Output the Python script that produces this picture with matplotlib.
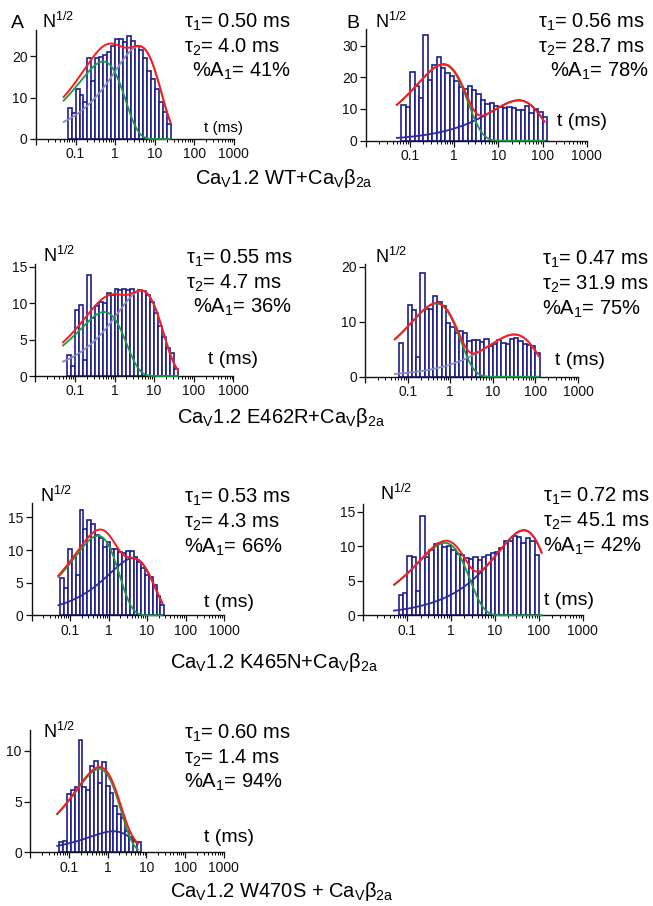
import numpy as np
import matplotlib
matplotlib.use('Agg')
import matplotlib.pyplot as plt
from matplotlib.ticker import LogLocator, NullFormatter

plt.rcParams['font.family'] = ['Liberation Sans', 'DejaVu Sans']
plt.rcParams['mathtext.fontset'] = 'custom'
plt.rcParams['mathtext.rm'] = 'Liberation Sans'
plt.rcParams['mathtext.it'] = 'Liberation Sans:italic'
plt.rcParams['mathtext.bf'] = 'Liberation Sans:bold'

W, H = 653, 906

# dwell-time histograms, sqrt(counts) per log bin (10 bins per decade)
bins_start = [-1.2, -1.2, -1.2, -1.2, -1.25, -1.2, -1.25]   # log10 of first edge
wt_fast = [7.5, 6.3, 12.0, 10.6, 9.0, 19.4, 14.0, 19.5, 19.8, 20.3, 21.0, 22.5, 24.0,
           24.0, 23.3, 24.7, 23.7, 22.5, 21.4, 19.5, 16.5, 14.5, 12.0, 9.0, 6.5, 3.5]
wt_slow = [11.3, 10.5, 21.6, 17.3, 13.5, 33.5, 19.2, 23.9, 26.3, 22.8, 21.5, 20.4, 18.8,
           16.8, 16.2, 17.1, 16.1, 14.6, 12.8, 11.6, 11.8, 10.9, 10.5, 10.2, 10.5, 10.2,
           9.7, 9.7, 11.0, 8.6, 9.9, 9.2, 7.4]
e462r_fast = [2.9, 1.4, 9.1, 9.7, 2.2, 13.9, 8.0, 9.6, 10.2, 10.0, 11.4, 11.1, 11.9, 11.8,
              12.0, 11.8, 12.0, 11.6, 11.8, 11.7, 11.1, 10.2, 8.6, 6.8, 5.4, 3.8, 3.1, 1.0]
e462r_slow = [6.2, 0.0, 13.1, 12.1, 3.6, 18.9, 12.4, 12.4, 14.7, 13.6, 12.8, 9.8, 9.1, 8.0,
              8.3, 7.9, 6.5, 6.7, 6.7, 6.4, 6.8, 5.5, 5.9, 6.7, 6.2, 5.9, 6.8, 7.0, 6.5,
              5.9, 5.8, 5.6, 4.4]
k465n_fast = [5.7, 4.2, 10.1, 8.9, 6.2, 16.2, 13.2, 14.6, 14.0, 12.3, 11.9, 10.4, 11.3,
              10.1, 10.1, 9.7, 9.6, 9.9, 9.9, 8.9, 8.1, 7.2, 6.2, 5.8, 4.6, 3.0, 1.6]
k465n_slow = [3.0, 3.3, 8.6, 8.4, 3.5, 14.4, 8.5, 9.5, 10.4, 10.5, 9.9, 10.0, 9.4, 8.9,
              8.8, 8.3, 8.2, 8.4, 8.0, 8.4, 8.7, 9.0, 9.2, 9.7, 10.7, 10.7, 11.5, 11.3,
              10.5, 11.2, 10.7, 8.7]
w470s = [1.0, 1.1, 5.7, 6.1, 6.4, 11.1, 6.4, 6.1, 8.5, 9.0, 6.8, 8.9, 6.5, 5.8, 4.6,
         3.8, 3.4, 2.1, 1.5, 0.0, 1.0]
hists = [wt_fast, wt_slow, e462r_fast, e462r_slow, k465n_fast, k465n_slow, w470s]

# two-exponential fit results
tau1 = [0.50, 0.56, 0.55, 0.47, 0.53, 0.72, 0.60]
tau2 = [4.0, 28.7, 4.7, 31.9, 4.3, 45.1, 1.4]
amp1 = [41, 78, 36, 75, 66, 42, 94]
n_events = [850, 738, 215, 236, 225, 262, 71.5]
t_end = [25, 110, 40, 120, 25, 115, 6]
tau1_txt = ['0.50', '0.56', '0.55', '0.47', '0.53', '0.72', '0.60']
yticks = [[0, 10, 20], [0, 10, 20, 30], [0, 5, 10, 15], [0, 10, 20],
          [0, 5, 10, 15], [0, 5, 10, 15], [0, 5, 10]]
captions = [r'Ca$_\mathrm{V}$1.2 WT+Ca$_\mathrm{V}$β$_\mathrm{2a}$',
            r'Ca$_\mathrm{V}$1.2 E462R+Ca$_\mathrm{V}$β$_\mathrm{2a}$',
            r'Ca$_\mathrm{V}$1.2 K465N+Ca$_\mathrm{V}$β$_\mathrm{2a}$',
            r'Ca$_\mathrm{V}$1.2 W470S + Ca$_\mathrm{V}$β$_\mathrm{2a}$']

# axes placement in pixels: x of 0.1 tick, px per decade, log10 xmin, y of 0, px per unit, ymax
layout = [(71, 40.7, -1.86, 139, 4.15, 26.3),
          (407.3, 44.85, -1.92, 140.7, 3.17, 35.2),
          (71, 40.6, -1.88, 376, 7.28, 15.4),
          (407, 42.75, -1.98, 376.7, 5.5, 20.5),
          (70, 38.5, -2.0, 615.3, 6.53, 17.2),
          (407.3, 43.9, -2.0, 615.3, 6.9, 16.1),
          (68.3, 38.9, -1.98, 852.3, 10.16, 12.0)]
# text anchors: tau block x, first baseline, %A x offset, N label, t (ms) label
tau_pos = [(184.3, 27.3, 7.4), (538.3, 27.3, 11.7), (186, 263.3, 6.7), (541.7, 265, 0),
           (184.3, 502.7, 0), (543.3, 502, 0), (184.3, 738.3, 0)]
n_pos = [(41.7, 27.7), (375, 27.7), (43.3, 261.7), (375, 263.3), (40, 501.7),
         (380, 500), (43.3, 738.3)]
t_pos = [(204, 132, 11), (557.3, 126, 14), (208.3, 364, 14), (555, 365, 14),
         (204, 607, 14), (544, 605, 14), (204, 842, 14)]
cap_pos = [(195, 184), (176.7, 423), (170, 668), (170, 897)]

slow_col = ['#8a8ab8', '#2b2b9a', '#8a8ab8', '#8a8ab8', '#2b2b9a', '#2b2b9a', '#2b2b9a']
bar_col = '#1e1e8c'


def fx(x):
    return x / W


def fy(y):
    return 1 - y / H


fig = plt.figure(figsize=(W / 100, H / 100), dpi=100)

for i in range(7):
    x01, dec, lxmin, y0, ppu, ymax = layout[i]
    left = x01 - dec * (-1 - lxmin)
    right = x01 + 4 * dec
    top = y0 - ppu * ymax
    ax = fig.add_axes([fx(left), fy(y0), (right - left) / W, (y0 - top) / H])
    ax.set_xscale('log')
    ax.set_xlim(10 ** lxmin, 1000)
    ax.set_ylim(0, ymax)

    vals = np.array(hists[i])
    edges = 10 ** (bins_start[i] + 0.1 * np.arange(len(vals) + 1))
    ax.bar(edges[:-1], vals, width=np.diff(edges), align='edge', facecolor='white',
           edgecolor=bar_col, linewidth=1.2, zorder=2)

    t = np.logspace(np.log10(0.05), np.log10(t_end[i]), 300)
    a1 = amp1[i] / 100.0
    c1 = n_events[i] * a1
    c2 = n_events[i] * (1 - a1)
    n1 = c1 * (t / tau1[i]) * np.exp(1 - t / tau1[i])
    n2 = c2 * (t / tau2[i]) * np.exp(1 - t / tau2[i])
    ax.plot(t, np.sqrt(n2), color=slow_col[i], lw=1.3, zorder=3, clip_on=False)
    ax.plot(t, np.sqrt(n1), color='#1f9a3c', lw=1.3, zorder=4, clip_on=False)
    ax.plot(t, np.sqrt(n1 + n2), color='#ff1a1a', lw=1.4, zorder=5, clip_on=False)

    ax.set_xticks([0.01, 0.1, 1, 10, 100, 1000])
    ax.set_xticklabels(['', '0.1', '1', '10', '100', '1000'])
    ax.xaxis.set_minor_locator(LogLocator(base=10, subs=np.arange(2, 10)))
    ax.xaxis.set_minor_formatter(NullFormatter())
    ax.set_yticks(yticks[i])
    ax.tick_params(which='major', direction='out', length=4, width=0.9, labelsize=10,
                   pad=2, colors='#111111')
    ax.tick_params(which='minor', direction='out', length=2.5, width=0.7)
    for s in ['top', 'right']:
        ax.spines[s].set_visible(False)
    for s in ['left', 'bottom']:
        ax.spines[s].set_linewidth(1.0)
        ax.spines[s].set_color('#111111')
    ax.patch.set_alpha(0)

    # fit parameters
    tx, ty, dx = tau_pos[i]
    fig.text(fx(tx), fy(ty), r'τ$_1$= %s ms' % tau1_txt[i], fontsize=14.5, va='baseline')
    fig.text(fx(tx), fy(ty + 25), r'τ$_2$= %.1f ms' % tau2[i], fontsize=14.5, va='baseline')
    fig.text(fx(tx + dx), fy(ty + 49.5), r'%%A$_1$= %d%%' % amp1[i], fontsize=14.5,
             va='baseline')
    nx, ny = n_pos[i]
    fig.text(fx(nx), fy(ny), r'N$^\mathrm{1/2}$', fontsize=13, va='baseline')
    lx, ly, ls = t_pos[i]
    fig.text(fx(lx), fy(ly), 't (ms)', fontsize=ls, va='baseline')

fig.text(fx(11), fy(27.7), 'A', fontsize=14, va='baseline')
fig.text(fx(346), fy(27.7), 'B', fontsize=14, va='baseline')
for (cx, cy), cap in zip(cap_pos, captions):
    fig.text(fx(cx), fy(cy), cap, fontsize=14.5, va='baseline')

fig.savefig('out.png', dpi=100)
